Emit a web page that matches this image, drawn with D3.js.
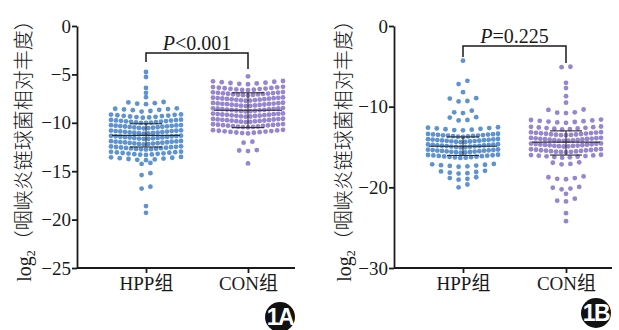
<!DOCTYPE html>
<html>
<head>
<meta charset="utf-8">
<script src="https://cdn.jsdelivr.net/npm/d3@7"></script>
<style>
  body { margin: 0; background: #fff; }
  svg { display: block; }
  text { font-family: 'Liberation Serif', 'Noto Sans CJK SC', serif; }
</style>
</head>
<body>
<svg id="chart" width="619" height="330"></svg>
<script>
const groups = ['HPP组', 'CON组'];
const colors = ['#5e93d1', '#9685cf'];

// panel 1A values, log2 relative abundance
const hppA = [
  -4.75, -5.27, -6.4, -6.9, -7.35,
  -7.85, -7.9, -8.02, -7.97, -8.08,
  -8.5, -8.55, -8.62, -8.7, -8.78, -8.84, -8.66, -8.58,
  -9.13, -9.15, -9.18, -9.22, -9.25, -9.28, -9.31, -9.35, -9.38, -9.41, -9.44, -9.47,
  -9.68, -9.7, -9.72, -9.75, -9.77, -9.8, -9.82, -9.85, -9.87, -9.9, -9.93, -9.95, -9.98, -10.0, -10.02,
  -10.23, -10.25, -10.27, -10.3, -10.31, -10.34, -10.36, -10.38, -10.41, -10.43, -10.46, -10.48, -10.5, -10.53, -10.55, -10.57,
  -10.78, -10.8, -10.82, -10.85, -10.86, -10.89, -10.91, -10.93, -10.96, -10.98, -11.01, -11.03, -11.05, -11.08, -11.1, -11.12,
  -11.33, -11.35, -11.37, -11.4, -11.41, -11.44, -11.46, -11.48, -11.51, -11.53, -11.56, -11.58, -11.6, -11.63, -11.65, -11.67,
  -11.88, -11.9, -11.92, -11.95, -11.96, -11.99, -12.01, -12.03, -12.06, -12.08, -12.11, -12.13, -12.15, -12.18, -12.2, -12.22,
  -12.43, -12.45, -12.48, -12.5, -12.52, -12.55, -12.57, -12.6, -12.62, -12.65, -12.67, -12.7, -12.72, -12.74, -12.77,
  -12.98, -13.0, -13.03, -13.06, -13.09, -13.12, -13.15, -13.18, -13.21, -13.24, -13.27, -13.29, -13.32,
  -13.53, -13.57, -13.61, -13.65, -13.7, -13.74, -13.78, -13.82, -13.86,
  -14.15, -14.25, -15.2, -15.4, -16.6, -16.8, -18.6, -19.3
];
const conA = [
  -5.2,
  -5.68, -5.72, -5.76, -5.8, -5.85, -5.89, -5.93, -5.97, -6.02,
  -6.28, -6.31, -6.34, -6.37, -6.4, -6.43, -6.46, -6.49, -6.52, -6.55, -6.58, -6.6, -6.62,
  -6.83, -6.85, -6.88, -6.9, -6.93, -6.95, -6.98, -7.0, -7.02, -7.05, -7.07, -7.1, -7.12, -7.15, -7.17,
  -7.38, -7.4, -7.42, -7.45, -7.46, -7.49, -7.51, -7.53, -7.56, -7.58, -7.61, -7.63, -7.65, -7.68, -7.7, -7.72,
  -7.93, -7.95, -7.97, -8.0, -8.01, -8.04, -8.06, -8.08, -8.11, -8.13, -8.16, -8.18, -8.2, -8.23, -8.25, -8.27,
  -8.48, -8.5, -8.52, -8.55, -8.56, -8.59, -8.61, -8.63, -8.66, -8.68, -8.71, -8.73, -8.75, -8.78, -8.8, -8.82,
  -9.03, -9.05, -9.07, -9.1, -9.11, -9.14, -9.16, -9.18, -9.21, -9.23, -9.26, -9.28, -9.3, -9.33, -9.35, -9.37,
  -9.58, -9.6, -9.62, -9.65, -9.66, -9.69, -9.71, -9.73, -9.76, -9.78, -9.81, -9.83, -9.85, -9.88, -9.9, -9.92,
  -10.13, -10.15, -10.18, -10.2, -10.22, -10.25, -10.27, -10.3, -10.32, -10.35, -10.37, -10.4, -10.42, -10.44, -10.47,
  -10.73, -10.76, -10.79, -10.82, -10.85, -10.88, -10.91, -10.94, -10.97, -11.0, -11.03, -11.06, -11.1,
  -11.95, -12.05, -12.82, -12.92, -12.86, -14.2
];

// panel 1B values
const hppB = [
  -4.3, -6.8, -7.2, -8.2,
  -8.95, -9.35, -9.3, -9.0,
  -10.5, -10.8, -10.7,
  -11.3, -11.7, -11.65, -11.35,
  -12.55, -12.6, -12.65, -12.7, -12.75, -12.8, -12.85, -12.9, -12.93,
  -13.36, -13.38, -13.41, -13.44, -13.46, -13.49, -13.52, -13.55, -13.58, -13.6, -13.63, -13.66, -13.69, -13.72, -13.75,
  -14.01, -14.03, -14.06, -14.08, -14.11, -14.14, -14.16, -14.19, -14.22, -14.24, -14.27, -14.3, -14.32, -14.35, -14.38, -14.4,
  -14.66, -14.68, -14.71, -14.73, -14.76, -14.79, -14.81, -14.84, -14.87, -14.89, -14.92, -14.95, -14.97, -15.0, -15.03, -15.05,
  -15.31, -15.33, -15.36, -15.38, -15.41, -15.44, -15.46, -15.49, -15.52, -15.54, -15.57, -15.6, -15.62, -15.65, -15.68, -15.7,
  -15.96, -15.99, -16.02, -16.05, -16.08, -16.11, -16.14, -16.17, -16.2, -16.23, -16.26, -16.29, -16.32, -16.35,
  -17.1, -17.15, -17.2, -17.25, -17.3, -17.35, -17.4, -17.45,
  -17.95, -18.03, -18.1, -18.18, -18.25, -18.3,
  -18.75, -18.85, -18.95, -19.05,
  -19.65, -20.0
];
const conB = [
  -5.05, -5.1, -7.05, -7.7, -8.7, -9.5,
  -10.35, -10.7, -10.8, -10.75, -10.4,
  -11.6, -11.65, -11.7, -11.75, -11.8, -11.85, -11.9, -11.95, -12.0,
  -12.46, -12.5, -12.54, -12.58, -12.62, -12.66, -12.7, -12.74, -12.78, -12.82,
  -13.16, -13.18, -13.21, -13.24, -13.27, -13.3, -13.33, -13.36, -13.39, -13.42, -13.45, -13.48, -13.5, -13.52, -13.54,
  -13.86, -13.88, -13.91, -13.93, -13.96, -13.99, -14.01, -14.04, -14.07, -14.09, -14.12, -14.15, -14.17, -14.2, -14.22, -14.24,
  -14.56, -14.58, -14.61, -14.63, -14.66, -14.69, -14.71, -14.74, -14.77, -14.79, -14.82, -14.85, -14.87, -14.9, -14.92, -14.94,
  -15.26, -15.28, -15.31, -15.34, -15.37, -15.4, -15.43, -15.46, -15.49, -15.52, -15.55, -15.58, -15.6, -15.62, -15.64,
  -15.96, -16.0, -16.04, -16.08, -16.12, -16.16, -16.2, -16.24, -16.28, -16.32,
  -16.9, -16.95, -17.1, -17.15,
  -18.65, -18.75, -18.85, -18.95, -19.0,
  -19.95, -20.05, -20.15, -20.25,
  -20.8, -21.4, -21.65, -21.75, -23.2, -24.2
];

// centre line and error bar ends
const midA = [-11.3, -8.7], lowA = [-12.5, -10.5], highA = [-10.1, -6.9];
const midB = [-14.9, -14.4], lowB = [-16.05, -16.0], highB = [-13.75, -13.0];

const yTicksA = [0, -5, -10, -15, -20, -25];
const yTicksB = [0, -10, -20, -30];
const pLabels = [['P', '<0.001'], ['P', '=0.225']];
const badges = ['1A', '1B'];

const svg = d3.select('#chart');
const serif = "'Liberation Serif', 'Noto Sans CJK SC', serif";

// prism style rows: values close together share a row, lowest in the middle
function swarm(values, tol) {
  const sorted = [...values].sort((a, b) => b - a);
  const rows = [];
  let row = null;
  sorted.forEach(v => {
    if (!row || row[0] - v > tol) { row = [v]; rows.push(row); }
    else row.push(v);
  });
  const out = [];
  rows.forEach(r => {
    const n = r.length;
    const step = n > 1 ? Math.min(8.8, 70 / (n - 1)) : 0;
    const slots = d3.range(n).map(k => (k - (n - 1) / 2) * step)
      .sort((a, b) => Math.abs(a) - Math.abs(b) || a - b);
    [...r].sort((a, b) => a - b).forEach((v, i) => out.push({ v, dx: slots[i] }));
  });
  return out;
}

function drawPanel(cfg) {
  const g = svg.append('g');
  const y = d3.scaleLinear().domain(cfg.yDomain).range([26, 268]);
  const x = d3.scalePoint().domain(groups).range(cfg.centers);

  // dots
  [cfg.hpp, cfg.con].forEach((vals, i) => {
    g.append('g').selectAll('circle')
      .data(swarm(vals, cfg.tol))
      .join('circle')
      .attr('cx', d => x(groups[i]) + d.dx)
      .attr('cy', d => y(d.v))
      .attr('r', 2.4)
      .attr('fill', colors[i]);
  });

  // mean and error bars
  groups.forEach((grp, i) => {
    const cx = x(grp);
    const s = g.append('g').attr('stroke', '#2a2a2a').attr('stroke-width', 1.1);
    s.append('line').attr('x1', cx - 34).attr('x2', cx + 34)
      .attr('y1', y(cfg.mid[i])).attr('y2', y(cfg.mid[i]));
    [cfg.low[i], cfg.high[i]].forEach(v => {
      s.append('line').attr('x1', cx - 16).attr('x2', cx + 16)
        .attr('y1', y(v)).attr('y2', y(v));
    });
    s.append('line').attr('x1', cx).attr('x2', cx)
      .attr('y1', y(cfg.high[i])).attr('y2', y(cfg.low[i]));
  });

  // Y axis
  g.append('g')
    .attr('transform', `translate(${cfg.left},0)`)
    .call(d3.axisLeft(y).tickValues(cfg.yTicks).tickSize(5).tickSizeOuter(0).tickPadding(1))
    .attr('font-family', serif)
    .call(a => a.selectAll('path,line').attr('stroke', '#1a1a1a').attr('stroke-width', 1.8))
    .call(a => a.selectAll('text').attr('font-size', 19).attr('fill', '#1a1a1a')
      .attr('font-family', serif));

  // X axis
  g.append('g')
    .attr('transform', `translate(0,268)`)
    .call(d3.axisBottom(x).tickSize(5).tickSizeOuter(0))
    .attr('font-family', serif)
    .call(a => a.select('.domain').attr('d', `M${cfg.left},0H${cfg.right}`))
    .call(a => a.selectAll('path,line').attr('stroke', '#1a1a1a').attr('stroke-width', 1.8))
    .call(a => a.selectAll('text').attr('font-size', 19).attr('fill', '#1a1a1a')
      .attr('y', 22).attr('dy', null));

  // significance bracket
  const by = y(cfg.bracket[0]);
  g.append('path')
    .attr('d', `M${x(groups[0])},${y(cfg.bracket[1])}V${by}H${x(groups[1])}V${y(cfg.bracket[2])}`)
    .attr('fill', 'none')
    .attr('stroke', '#1a1a1a')
    .attr('stroke-width', 1.5);
  const pt = g.append('text')
    .attr('x', (x(groups[0]) + x(groups[1])) / 2)
    .attr('y', by - 3)
    .attr('text-anchor', 'middle')
    .attr('font-size', 20)
    .attr('fill', '#1a1a1a');
  pt.append('tspan').attr('font-style', 'italic').text(cfg.p[0]);
  pt.append('tspan').text(cfg.p[1]);

  // Y title
  const t = g.append('text')
    .attr('transform', `translate(${cfg.titleX},146) rotate(-90)`)
    .attr('text-anchor', 'middle')
    .attr('font-size', 20)
    .attr('fill', '#1a1a1a');
  t.append('tspan').text('log');
  t.append('tspan').attr('font-size', 12).attr('dy', 4).text('2');
  t.append('tspan').attr('dy', -4).attr('font-weight', 300)
    .style('font-family', "'Noto Sans CJK SC', sans-serif")
    .text('（咽峡炎链球菌相对丰度）');

  // panel badge
  g.append('circle')
    .attr('cx', cfg.badge[0]).attr('cy', cfg.badge[1]).attr('r', cfg.badge[2])
    .attr('fill', '#111');
  g.append('text')
    .attr('x', cfg.badge[0]).attr('y', cfg.badge[1])
    .attr('dy', '0.36em')
    .attr('text-anchor', 'middle')
    .attr('font-size', 23)
    .attr('font-weight', 'bold')
    .attr('letter-spacing', -1.5)
    .attr('fill', '#fff')
    .style('font-family', "'Liberation Sans', Arial, sans-serif")
    .text(cfg.label);
}

drawPanel({
  hpp: hppA, con: conA, mid: midA, low: lowA, high: highA,
  yDomain: [0, -25], yTicks: yTicksA, tol: 0.42,
  left: 77, right: 295, centers: [146, 248],
  bracket: [-2.79, -3.72, -4.44], p: pLabels[0],
  titleX: 31, badge: [280, 317, 15], label: badges[0]
});

drawPanel({
  hpp: hppB, con: conB, mid: midB, low: lowB, high: highB,
  yDomain: [0, -30], yTicks: yTicksB, tol: 0.5,
  left: 394, right: 612, centers: [463, 566],
  bracket: [-2.48, -3.84, -4.58], p: pLabels[1],
  titleX: 351, badge: [596, 313, 15], label: badges[1]
});
</script>
</body>
</html>
